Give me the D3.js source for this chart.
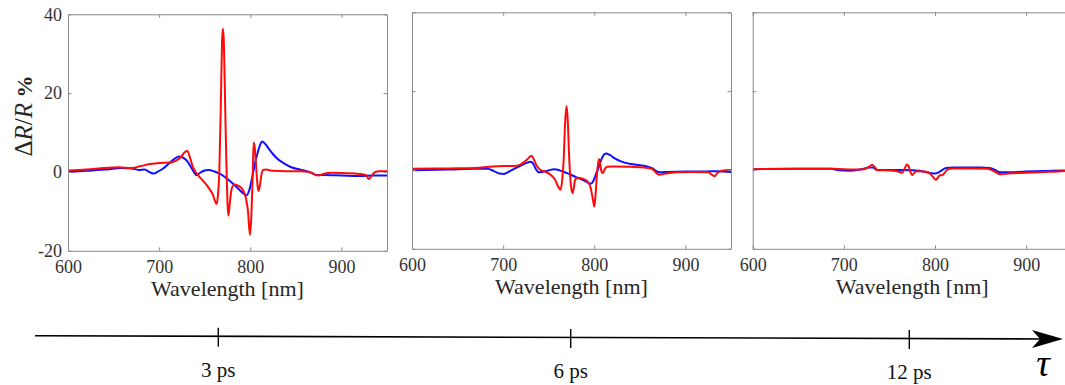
<!DOCTYPE html>
<html>
<head>
<meta charset="utf-8">
<script src="https://cdn.jsdelivr.net/npm/d3@7"></script>
<style>
  html, body { margin: 0; padding: 0; background: #fff; }
  svg { display: block; }
</style>
</head>
<body>
<svg id="chart" width="1065" height="385"></svg>
<script>
// delays shown under each panel
const delays = ['3 ps', '6 ps', '12 ps'];
const xTicks = [600, 700, 800, 900];
const yTicks = [-20, 0, 20, 40];

// [wavelength nm, dR/R %]
const red3ps = [[600,0.4],[620,0.6],[640,1.0],[655,1.2],[670,1.0],[680,1.5],[690,2.0],[700,2.3],[712,2.4],[718,2.8],[724,3.8],[728,5.0],[731,5.3],[734,3.5],[737,1.3],[740,0],[744,-1.2],[748,-2.2],[752,-3.3],[756,-4.6],[759,-5.8],[761,-7.2],[763,-8.1],[764.5,-6],[766,0],[767.5,15],[769,33],[770,36.4],[771,33],[772.5,16],[774,0],[775,-8],[776,-11.1],[777.5,-8],[779,-5],[781,-3.5],[783,-3.2],[786,-3.4],[789,-3.8],[792,-4.6],[795,-6.5],[797.5,-10],[799.6,-16],[801,-12],[802.5,-2],[803.7,7.5],[805,6],[806.5,1],[808,-3.5],[809,-4.8],[810.5,-3.5],[812,-1],[814,0.5],[817,0.6],[825,0.3],[840,0.2],[855,0.2],[865,0],[870,-0.6],[875,-0.9],[880,-0.5],[890,-0.2],[905,-0.3],[920,-0.5],[927,-0.8],[930,-1.8],[933,-1.0],[937,0],[942,0.2],[950,0.2]];
const blue3ps = [[600,0],[620,0.3],[640,0.6],[660,1.0],[672,0.8],[678,0.5],[684,0.6],[690,-0.1],[694,-0.4],[698,0],[704,0.8],[710,2],[716,3.2],[722,3.9],[727,3.5],[731,2.7],[735,1.2],[738,0],[741,-0.8],[745,-0.2],[749,0.3],[754,0.5],[760,0.2],[767,-0.5],[775,-1.8],[782,-3.2],[788,-4.5],[792,-5.4],[796,-5.9],[799,-4.5],[802,-1.5],[805,2],[808,4.8],[811,7],[813,7.7],[816,7.2],[820,6],[825,4.5],[830,3.3],[837,2.2],[845,1.2],[855,0.6],[862,0.2],[868,-0.3],[873,-0.8],[880,-0.8],[900,-0.9],[920,-1.0],[935,-0.9],[950,-0.9]];

const red6ps = [[600,0.3],[640,0.4],[670,0.5],[685,0.8],[700,1.0],[712,1.0],[720,1.5],[726,2.6],[731,3.6],[734,2.5],[737,1.0],[741,0],[746,-0.4],[752,-1.2],[757,-2.5],[761,-4.5],[763,-5.0],[765,-2],[766.5,3],[768,12],[769.7,16.2],[771,12],[772.5,3],[774,-3],[776,-5.9],[777.5,-4.5],[779,-2.5],[782,-2.0],[787,-2.2],[792,-2.8],[796,-4.5],[798.5,-7.5],[800,-9.3],[801.5,-6],[803,-1],[805,2.8],[806.5,1.5],[808,-0.5],[809.5,-0.8],[811,0],[814,0.8],[820,0.9],[840,0.8],[855,0.6],[863,0.3],[867,-0.5],[871,-1.2],[876,-1.0],[890,-0.6],[910,-0.5],[925,-0.6],[929,-1.2],[932,-1.6],[935,-0.8],[940,-0.2],[950,0.0]];
const blue6ps = [[600,-0.1],[640,0.1],[670,0.3],[683,0.3],[690,-0.3],[696,-0.9],[701,-1.0],[706,-0.5],[712,0.3],[720,1.2],[726,1.8],[730,2.1],[733,1.6],[736,0.2],[739,-0.6],[743,-0.5],[750,-0.1],[756,0.2],[762,-0.1],[770,-0.8],[780,-1.8],[788,-2.6],[793,-3.2],[796,-3.5],[799,-2.8],[802,-1],[805,0.8],[808,2.8],[811,4.0],[813,4.2],[817,3.8],[822,3.0],[830,2.1],[840,1.5],[850,1.2],[858,0.9],[864,0.4],[868,-0.3],[872,-0.6],[880,-0.5],[900,-0.4],[920,-0.4],[935,-0.3],[950,-0.5]];

const red12ps = [[600,0.2],[650,0.3],[690,0.3],[710,0.1],[722,0.2],[727,0.7],[731,1.3],[734,0.7],[737,-0.1],[745,-0.1],[755,-0.2],[761,-0.5],[764,-0.7],[767,0.5],[769,1.4],[771,1.0],[773,-0.5],[775,-1.3],[777,-0.8],[780,-0.3],[788,-0.4],[794,-0.8],[798,-1.8],[801,-2.5],[803,-2.0],[805,-1.4],[808,-1.3],[811,-0.6],[814,0.2],[820,0.4],[840,0.4],[858,0.3],[864,-0.2],[869,-0.9],[873,-1.1],[880,-0.9],[900,-0.7],[920,-0.5],[935,-0.4],[950,-0.1]];
const blue12ps = [[600,0.2],[650,0.3],[685,0.3],[695,-0.1],[705,-0.2],[718,0.1],[728,0.6],[732,0.6],[736,0.0],[745,0.0],[760,0.0],[775,-0.1],[790,-0.5],[796,-0.8],[800,-0.9],[804,-0.6],[808,0],[812,0.5],[820,0.6],[850,0.6],[860,0.5],[866,0],[870,-0.5],[875,-0.6],[900,-0.4],[930,-0.2],[950,-0.1]];

const panels = [
	{ left: 68, top: 14.3, red: red3ps, blue: blue3ps, yLabels: true },
	{ left: 412, top: 12.3, red: red6ps, blue: blue6ps, yLabels: false },
	{ left: 752.7, top: 12.3, red: red12ps, blue: blue12ps, yLabels: false },
];
const pw = 319;
const ph = 236.5;
const axisColor = '#8a8a8a';
const serif = "'Liberation Serif'";

const svg = d3.select('#chart');

panels.forEach((p, i) => {
	const x = d3.scaleLinear().domain([600, 950]).range([0, pw]);
	const y = d3.scaleLinear().domain([-20, 40]).range([ph, 0]);
	const g = svg.append('g').attr('transform', `translate(${p.left},${p.top})`);

	g.append('clipPath').attr('id', `clip${i}`)
		.append('rect').attr('width', pw).attr('height', ph);

	const line = d3.line()
		.x(d => x(d[0]))
		.y(d => y(d[1]))
		.curve(d3.curveMonotoneX);

	const plot = g.append('g').attr('clip-path', `url(#clip${i})`);
	plot.append('path').datum(p.blue)
		.attr('d', line).attr('fill', 'none')
		.attr('stroke', '#1010ff').attr('stroke-width', 2);
	plot.append('path').datum(p.red)
		.attr('d', line).attr('fill', 'none')
		.attr('stroke', '#ff0a0a').attr('stroke-width', 2)
		.attr('stroke-linejoin', 'round');

	// box with inward ticks, MATLAB style
	const bottom = g.append('g').attr('transform', `translate(0,${ph})`)
		.call(d3.axisBottom(x).tickValues(xTicks).tickSize(-3.5).tickSizeOuter(0).tickPadding(9));
	const top = g.append('g')
		.call(d3.axisTop(x).tickValues(xTicks).tickSize(-3.5).tickSizeOuter(0).tickFormat(''));
	const left = g.append('g')
		.call(d3.axisLeft(y).tickValues(yTicks).tickSize(-3.5).tickSizeOuter(0).tickPadding(6)
			.tickFormat(p.yLabels ? d3.format('') : ''));
	const right = g.append('g').attr('transform', `translate(${pw},0)`)
		.call(d3.axisRight(y).tickValues(yTicks).tickSize(-3.5).tickSizeOuter(0).tickFormat(''));

	[bottom, top, left, right].forEach(a => {
		a.attr('font-family', null).attr('font-size', null);
		a.selectAll('path, line').attr('stroke', axisColor);
		a.selectAll('text').attr('fill', '#333')
			.style('font-family', serif).style('font-size', '18px');
	});
	left.selectAll('text').text(d => p.yLabels ? String(d).replace('−', '-') : '');

	g.append('text')
		.attr('x', pw / 2).attr('y', ph + 45)
		.attr('text-anchor', 'middle').attr('fill', '#262626')
		.style('font-family', serif).style('font-size', '22px')
		.text('Wavelength [nm]');
});

// y label
const yl = svg.append('text')
	.attr('transform', 'translate(32,116) rotate(-90)')
	.attr('text-anchor', 'middle').attr('fill', '#262626')
	.style('font-family', serif).style('font-size', '25px');
yl.append('tspan').text('Δ');
yl.append('tspan').style('font-style', 'italic').text('R');
yl.append('tspan').text('/');
yl.append('tspan').style('font-style', 'italic').text('R');
yl.append('tspan').style('font-weight', 'bold').style('font-size', '22px').text(' %');

// time axis
const timeX = d3.scaleOrdinal().domain(delays).range([218.3, 570.7, 909.3]);
const ty = d3.scaleLinear().domain([35, 1063]).range([335.7, 339]);
const time = svg.append('g');
time.append('line')
	.attr('x1', 35).attr('y1', ty(35))
	.attr('x2', 1045).attr('y2', ty(1045))
	.attr('stroke', '#000').attr('stroke-width', 1.6);
time.append('path')
	.attr('d', `M1063,${ty(1063)} L1032,${ty(1063) - 9} L1040,${ty(1063)} L1032,${ty(1063) + 9} Z`)
	.attr('fill', '#000');
time.selectAll('.tk').data(delays).enter().append('line')
	.attr('x1', d => timeX(d)).attr('x2', d => timeX(d))
	.attr('y1', d => ty(timeX(d)) - 8.5).attr('y2', d => ty(timeX(d)) + 10.5)
	.attr('stroke', '#000').attr('stroke-width', 1.4);
time.selectAll('.tl').data(delays).enter().append('text')
	.attr('x', d => timeX(d)).attr('y', d => ty(timeX(d)) + 40.5)
	.attr('text-anchor', 'middle').attr('fill', '#111')
	.style('font-family', serif).style('font-size', '21px')
	.text(d => d);
time.append('text')
	.attr('x', 1043).attr('y', 376)
	.attr('text-anchor', 'middle').attr('fill', '#000')
	.style('font-family', serif).style('font-size', '38px').style('font-style', 'italic')
	.text('τ');
</script>
</body>
</html>
